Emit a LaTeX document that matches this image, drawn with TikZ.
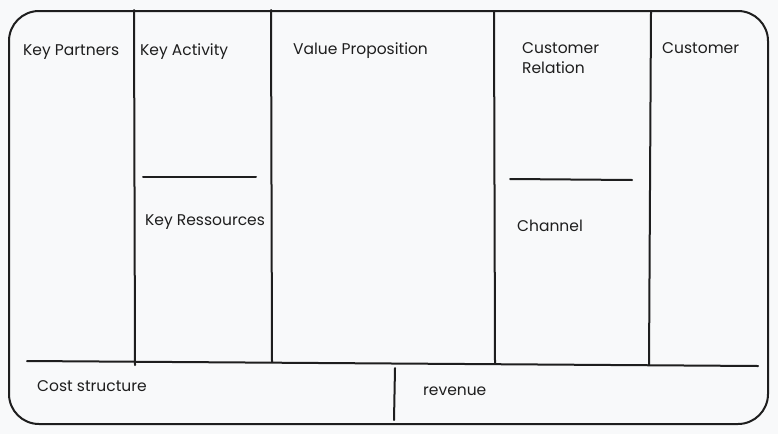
\documentclass[tikz,border=0pt]{standalone}
\usepackage{fontspec}
\setmainfont{Poppins}
\definecolor{ink}{HTML}{1E1E1E}
\definecolor{paper}{HTML}{F8F9FA}
\tikzset{
  rough/.style={draw=ink, line width=2pt, line cap=round},
  label/.style={anchor=base west, inner sep=0pt, text=ink, font=\fontsize{15.5}{18}\selectfont}
}
\begin{document}
\begin{tikzpicture}[x=1pt, y=-1pt]
    % Fondo
    \fill[paper] (0,0) rectangle (778,434);
    \useasboundingbox (0,0) rectangle (778,434);

    % Marco exterior
    \draw[rough, rounded corners=30pt] (9,11) rectangle (768,424);

    % Columnas
    \draw[rough] (134,10) -- (135,365);
    \draw[rough] (271,10) -- (272,362);
    \draw[rough] (494,12) -- (495,363);
    \draw[rough] (651,12) -- (649,365);

    % Separaciones internas
    \draw[rough] (143,177) -- (256,177);
    \draw[rough] (510,179) -- (632,180);

    % Franja inferior
    \draw[rough] (27,361) -- (758,366);
    \draw[rough] (395,368) -- (394,420);

    % Etiquetas de los bloques
    \node[label] (partners) at (23,55) {Key Partners};
    \node[label] (activity) at (140,55) {Key Activity};
    \node[label] (value) at (293,54) {Value Proposition};
    \node[label] (relation) at (522,53) {Customer};
    \node[label] (relation2) at (522,73) {Relation};
    \node[label] (customer) at (662,53) {Customer};
    \node[label] (resources) at (145,225) {Key Ressources};
    \node[label] (channel) at (517,231) {Channel};
    \node[label] (cost) at (37,391) {Cost structure};
    \node[label] (revenue) at (423,395) {revenue};
\end{tikzpicture}
\end{document}
